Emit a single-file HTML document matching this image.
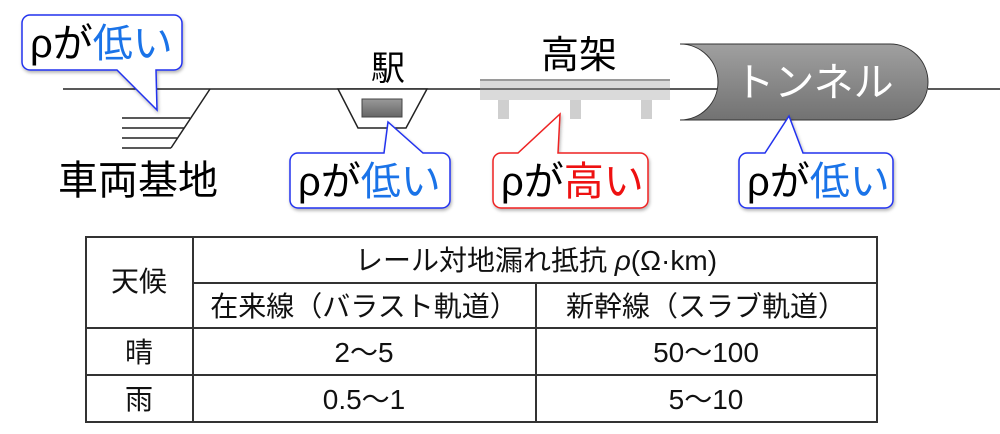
<!DOCTYPE html>
<html><head><meta charset="utf-8"><style>
html,body{margin:0;padding:0;background:#fff;width:1000px;height:434px;overflow:hidden}
svg{display:block}
text{font-family:"Liberation Sans","Noto Sans CJK JP",sans-serif}
</style></head><body>
<svg width="1000" height="434" viewBox="0 0 1000 434" xmlns="http://www.w3.org/2000/svg">
<defs>
<linearGradient id="tg" x1="0" y1="0" x2="0" y2="1"><stop offset="0" stop-color="#a0a0a0"/><stop offset="1" stop-color="#727272"/></linearGradient>
<linearGradient id="sg" x1="0" y1="0" x2="0" y2="1"><stop offset="0" stop-color="#999"/><stop offset="1" stop-color="#666"/></linearGradient>
<filter id="sh" x="-10%" y="-10%" width="130%" height="140%"><feDropShadow dx="1" dy="2" stdDeviation="1.5" flood-color="#000" flood-opacity="0.3"/></filter>
</defs>
<line x1="63" y1="89" x2="720" y2="89" stroke="#222" stroke-width="1.5"/>
<line x1="928" y1="89" x2="1000" y2="89" stroke="#222" stroke-width="1.5"/>
<polyline points="210,89 171,148" fill="none" stroke="#222" stroke-width="1.5"/>
<g stroke="#222" stroke-width="1.5">
<line x1="122" y1="118" x2="190" y2="118"/><line x1="122" y1="128" x2="184" y2="128"/>
<line x1="122" y1="138" x2="177" y2="138"/><line x1="122" y1="148" x2="171" y2="148"/>
</g>
<text x="58" y="194" font-size="40">車両基地</text>
<polygon points="338,89 427,89 406,128 358,128" fill="#fff" stroke="#222" stroke-width="1.5"/>
<rect x="362" y="99" width="40" height="18" fill="url(#sg)" stroke="#444" stroke-width="1"/>
<text x="388" y="80" font-size="34" text-anchor="middle">駅</text>
<rect x="498" y="100" width="11" height="19" fill="#cfcfcf"/>
<rect x="570" y="100" width="11" height="19" fill="#cfcfcf"/>
<rect x="641" y="100" width="11" height="19" fill="#cfcfcf"/>
<rect x="480" y="79" width="190" height="21" fill="#dadada"/>
<rect x="480" y="79" width="190" height="2" fill="#9a9a9a"/>
<line x1="480" y1="89" x2="670" y2="89" stroke="#333" stroke-width="1.2"/>
<text x="579" y="68" font-size="38" text-anchor="middle">高架</text>
<path d="M680,44 L890,44 A38,38 0 0 1 890,120 L680,120 A38,38 0 0 0 680,44 Z" fill="url(#tg)" stroke="#333" stroke-width="1"/>
<text x="814" y="96" font-size="40" fill="#fff" text-anchor="middle">トンネル</text>
<g filter="url(#sh)">
<path d="M30,15 H174 A8,8 0 0 1 182,23 V62 A8,8 0 0 1 174,70 H156 L157,110 L117,70 H30 A8,8 0 0 1 22,62 V23 A8,8 0 0 1 30,15 Z" fill="#fff" stroke="#2233ee" stroke-width="1.5"/>
<path d="M298,153 H384 L388,122 L423,153 H442 A8,8 0 0 1 450,161 V200 A8,8 0 0 1 442,208 H298 A8,8 0 0 1 290,200 V161 A8,8 0 0 1 298,153 Z" fill="#fff" stroke="#2233ee" stroke-width="1.5"/>
<path d="M501,153 H518 L560,114 L558,153 H640 A8,8 0 0 1 648,161 V200 A8,8 0 0 1 640,208 H501 A8,8 0 0 1 493,200 V161 A8,8 0 0 1 501,153 Z" fill="#fff" stroke="#ee2222" stroke-width="1.5"/>
<path d="M747,153 H765 L789,116 L803,153 H885 A8,8 0 0 1 893,161 V200 A8,8 0 0 1 885,208 H747 A8,8 0 0 1 739,200 V161 A8,8 0 0 1 747,153 Z" fill="#fff" stroke="#2233ee" stroke-width="1.5"/>
</g>
<g font-size="40">
<text x="30" y="57">ρが<tspan fill="#1a73e8">低い</tspan></text>
<text x="298" y="195">ρが<tspan fill="#1a73e8">低い</tspan></text>
<text x="501" y="195">ρが<tspan fill="#ee1111">高い</tspan></text>
<text x="747" y="195">ρが<tspan fill="#1a73e8">低い</tspan></text>
</g>
<g stroke="#333" stroke-width="2" fill="none">
<rect x="86" y="237" width="791" height="185"/>
<line x1="193" y1="237" x2="193" y2="422"/>
<line x1="193" y1="283" x2="877" y2="283"/>
<line x1="86" y1="328" x2="877" y2="328"/>
<line x1="86" y1="375" x2="877" y2="375"/>
<line x1="536" y1="283" x2="536" y2="422"/>
</g>
<g font-size="28" text-anchor="middle" fill="#111">
<text x="139" y="291">天候</text>
<text x="536" y="270">レール対地漏れ抵抗 <tspan font-style="italic">ρ</tspan>(Ω·km)</text>
<text x="364" y="316">在来線（バラスト軌道）</text>
<text x="706" y="316">新幹線（スラブ軌道）</text>
<text x="139" y="362">晴</text>
<text x="364" y="362">2〜5</text>
<text x="706" y="362">50〜100</text>
<text x="139" y="409">雨</text>
<text x="364" y="409">0.5〜1</text>
<text x="706" y="409">5〜10</text>
</g>
</svg>
</body></html>
